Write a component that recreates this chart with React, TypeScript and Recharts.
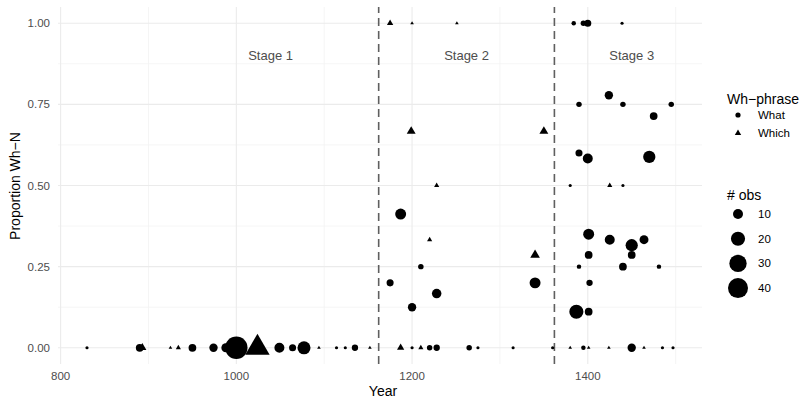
import {
  ScatterChart,
  Scatter,
  XAxis,
  YAxis,
  ZAxis,
  ReferenceLine,
  ReferenceDot,
} from "recharts";

// "What" observations (circles)
const whatYear = [
  830, 890, 950, 974, 988, 1000, 1049, 1064, 1077, 1114, 1124, 1135, 1200, 1220, 1228, 1265, 1275, 1315, 1360, 1395,
  1450, 1485, 1497,
  1384, 1395, 1400, 1439,
  1424, 1390, 1440, 1495, 1475, 1390, 1400, 1470, 1380, 1440,
  1187, 1175, 1210, 1228, 1200, 1340,
  1401, 1425, 1450, 1464, 1401, 1450, 1390, 1440, 1481, 1402, 1387, 1401,
];
const whatProp = [
  0, 0, 0, 0, 0, 0, 0, 0, 0, 0, 0, 0, 0, 0, 0, 0, 0, 0, 0, 0,
  0, 0, 0,
  1, 1, 1, 1,
  0.778, 0.75, 0.75, 0.75, 0.714, 0.6, 0.583, 0.588, 0.5, 0.5,
  0.412, 0.2, 0.25, 0.167, 0.125, 0.2,
  0.35, 0.333, 0.316, 0.333, 0.286, 0.286, 0.25, 0.25, 0.25, 0.2, 0.111, 0.111,
];
const whatObs = [
  1, 6, 6, 7, 8, 50, 10, 5, 17, 1, 1, 4, 1, 3, 4, 3, 1, 1, 1, 2,
  7, 1, 1,
  2, 3, 5, 1,
  7, 3, 3, 3, 6, 5, 10, 15, 1, 1,
  12, 5, 3, 9, 7, 12,
  12, 10, 15, 8, 6, 6, 2, 6, 2, 4, 20, 6,
];

// "Which" observations (triangles)
const whichYear = [893, 925, 934, 1024, 1094, 1152, 1187, 1210, 1380, 1401, 1424, 1464, 1175, 1200, 1251, 1199, 1350, 1228, 1220, 1340, 1425];
const whichProp = [0, 0, 0, 0, 0, 0, 0, 0, 0, 0, 0, 0, 1, 1, 1, 0.667, 0.667, 0.5, 0.333, 0.286, 0.5];
const whichObs = [5, 1, 2, 45, 1, 1, 4, 2, 1, 1, 1, 1, 3, 1, 1, 6, 6, 2, 2, 7, 2];

const xTicks = [800, 1000, 1200, 1400];
const xMinor = [900, 1100, 1300, 1500];
const yTicks = [0, 0.25, 0.5, 0.75, 1];
const yMinor = [0.125, 0.375, 0.625, 0.875];
const stageBreaks = [1162, 1362];
const stageNames = ["Stage 1", "Stage 2", "Stage 3"];
const stageYears = [1039, 1262, 1450];
const obsLegend = [10, 20, 30, 40];

const AREA_PER_OBS = 7.85;
const TRI_RATIO = 0.73;
const FONT = "'Liberation Sans', Arial, Helvetica, sans-serif";

const whatData = whatYear.map((year, i) => ({ year, prop: whatProp[i], n: whatObs[i] }));
const whichData = whichYear.map((year, i) => ({ year, prop: whichProp[i], n: whichObs[i] }));

function LegendBox() {
  return (
    <div style={{ position: "absolute", left: 727, top: 91, fontFamily: FONT, color: "#000" }}>
      <div style={{ fontSize: 14, height: 18 }}>Wh−phrase</div>
      <svg width={80} height={40} style={{ display: "block" }}>
        <circle cx={11} cy={6} r={2.6} fill="#000" />
        <text x={31} y={10} fontSize={11.5} fill="#000">What</text>
        <path d="M11,20.5 L14.2,26 L7.8,26 Z" fill="#000" />
        <text x={31} y={28} fontSize={11.5} fill="#000">Which</text>
      </svg>
      <div style={{ fontSize: 14, height: 20, marginTop: 38 }}>#&nbsp;obs</div>
      <svg width={80} height={100} style={{ display: "block" }}>
        {obsLegend.map((n, i) => {
          const r = Math.sqrt((n * AREA_PER_OBS) / Math.PI);
          const cy = 7 + i * 24.7;
          return (
            <g key={n}>
              <circle cx={11} cy={cy} r={r} fill="#000" />
              <text x={31} y={cy + 4} fontSize={11.5} fill="#000">
                {n}
              </text>
            </g>
          );
        })}
      </svg>
    </div>
  );
}

export default function App() {
  return (
    <div style={{ position: "absolute", left: 0, top: 0, width: 808, height: 402, background: "#fff", fontFamily: FONT }}>
      <ScatterChart width={808} height={402} margin={{ top: 7, right: 106, bottom: 0, left: 0 }}>
        {xMinor.map((v) => (
          <ReferenceLine key={`xm${v}`} x={v} stroke="#f2f2f2" strokeWidth={0.8} />
        ))}
        {yMinor.map((v) => (
          <ReferenceLine key={`ym${v}`} y={v} stroke="#f2f2f2" strokeWidth={0.8} />
        ))}
        {xTicks.map((v) => (
          <ReferenceLine key={`x${v}`} x={v} stroke="#ebebeb" strokeWidth={1.1} />
        ))}
        {yTicks.map((v) => (
          <ReferenceLine key={`y${v}`} y={v} stroke="#ebebeb" strokeWidth={1.1} />
        ))}
        <XAxis
          type="number"
          dataKey="year"
          domain={[797, 1530]}
          ticks={xTicks}
          allowDataOverflow
          height={38}
          axisLine={false}
          tickLine={false}
          tick={{ fontSize: 11.5, fill: "#4d4d4d" }}
          label={{
            content: () => (
              <text x={383} y={396} textAnchor="middle" fontSize={14} fill="#000">
                Year
              </text>
            ),
          }}
        />
        <YAxis
          type="number"
          dataKey="prop"
          domain={[-0.05, 1.05]}
          ticks={yTicks}
          tickFormatter={(v: number) => v.toFixed(2)}
          allowDataOverflow
          width={58}
          axisLine={false}
          tickLine={false}
          tick={{ fontSize: 11.5, fill: "#4d4d4d" }}
          label={{
            content: () => (
              <text x={20} y={186} transform="rotate(-90 20 186)" textAnchor="middle" fontSize={14} fill="#000">
                Proportion Wh−N
              </text>
            ),
          }}
        />
        <ZAxis zAxisId="c" type="number" dataKey="n" domain={[0, 60]} range={[0, 60 * AREA_PER_OBS]} />
        <ZAxis zAxisId="t" type="number" dataKey="n" domain={[0, 60]} range={[0, 60 * AREA_PER_OBS * TRI_RATIO]} />
        {stageBreaks.map((v) => (
          <ReferenceLine key={`s${v}`} x={v} stroke="#5f5f5f" strokeWidth={1.6} strokeDasharray="8 5" />
        ))}
        {stageNames.map((name, i) => (
          <ReferenceDot
            key={name}
            x={stageYears[i]}
            y={0.9}
            r={0}
            fill="none"
            stroke="none"
            label={{ value: name, position: "center", fill: "#4d4d4d", fontSize: 13 }}
          />
        ))}
        <Scatter name="What" data={whatData} zAxisId="c" shape="circle" fill="#000" isAnimationActive={false} />
        <Scatter name="Which" data={whichData} zAxisId="t" shape="triangle" fill="#000" isAnimationActive={false} />
      </ScatterChart>
      <LegendBox />
    </div>
  );
}
